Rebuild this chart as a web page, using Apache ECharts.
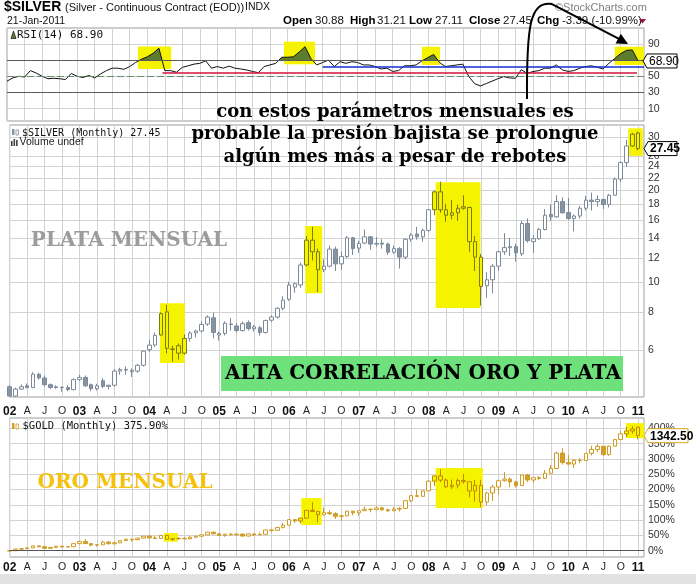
<!DOCTYPE html>
<html><head><meta charset="utf-8">
<script src="https://cdn.jsdelivr.net/npm/echarts@6/dist/echarts.min.js"></script>
<style>html,body{margin:0;padding:0;background:#fff}#c{width:696px;height:584px}</style>
</head><body><div id="c"></div>
<script>
// ---------- DATA (monthly, Jan 2002 .. Jan 2011) ----------
const yearLabels = ['02','03','04','05','06','07','08','09','10','11'];
const quarterLetters = ['A','J','O'];

const silverOpen = [4.55,4.24,4.47,4.58,4.52,5.00,4.86,4.62,4.52,4.53,4.52,4.45,
 4.80,4.88,4.62,4.48,4.76,4.56,4.60,5.12,5.18,5.10,5.12,5.35,
 6.02,6.23,6.72,8.00,6.05,6.20,5.86,6.55,6.83,6.93,7.30,7.65,
 6.72,6.80,7.30,7.20,6.95,7.38,7.05,7.10,6.85,7.52,7.70,8.22,
 8.80,9.65,9.80,11.40,13.75,12.60,11.00,11.30,12.85,11.50,12.15,14.00,
 12.95,13.45,14.10,13.35,13.45,13.35,12.55,12.90,12.10,13.85,14.40,14.10,
 14.80,17.30,19.80,17.30,16.60,16.90,17.70,17.60,13.60,12.10,9.75,10.20,
 11.30,12.60,13.00,13.10,12.40,15.60,13.60,13.90,14.90,16.70,16.40,18.40,
 16.95,16.20,16.50,17.50,18.60,18.40,18.70,18.00,19.30,21.80,24.70,28.00,
 30.88];
const silverHigh = [4.60,4.52,4.63,4.66,5.08,5.05,4.95,4.66,4.60,4.56,4.60,4.85,
 4.98,4.95,4.66,4.65,4.85,4.62,5.20,5.25,5.30,5.22,5.40,5.98,
 6.48,6.85,7.98,8.45,6.20,6.30,6.75,6.92,7.00,7.45,7.80,7.95,
 6.90,7.45,7.65,7.35,7.45,7.50,7.25,7.20,7.55,7.80,8.30,9.00,
 10.05,10.00,11.60,14.20,15.20,12.90,11.90,13.20,13.10,12.60,14.20,14.10,
 13.70,14.90,14.20,14.10,13.85,13.50,13.20,13.05,13.95,14.50,15.20,15.00,
 17.40,20.00,21.40,18.10,18.60,18.00,19.30,17.70,14.20,12.40,10.80,11.50,
 12.70,14.50,14.00,13.40,15.90,16.20,14.30,15.10,17.40,18.00,19.30,19.00,
 18.90,16.70,17.80,19.20,19.70,19.30,18.80,19.50,22.10,24.90,29.30,30.90,
 31.21];
const silverLow = [4.22,4.22,4.45,4.50,4.50,4.80,4.55,4.48,4.48,4.38,4.40,4.43,
 4.75,4.55,4.40,4.42,4.50,4.46,4.55,4.98,4.98,4.90,5.05,5.30,
 5.90,6.15,6.70,5.85,5.50,5.58,5.80,6.40,6.60,6.85,7.20,6.55,
 6.45,6.70,6.95,6.85,6.90,6.95,6.90,6.70,6.80,7.40,7.60,8.10,
 8.70,9.25,9.60,11.30,11.80,9.30,10.80,11.20,10.90,11.00,12.00,12.30,
 12.50,13.35,12.80,13.10,12.90,12.30,12.40,11.10,11.90,13.60,13.80,13.60,
 14.60,16.60,16.90,15.80,16.10,15.90,17.30,12.60,10.90,8.40,8.90,9.20,
 10.90,12.30,12.20,11.70,12.20,13.50,12.50,13.80,14.80,15.90,16.30,16.80,
 16.00,14.70,16.20,17.20,17.20,17.70,17.40,17.60,19.20,21.30,23.90,27.80,
 27.11];
const silverClose = [4.24,4.47,4.55,4.52,5.00,4.86,4.62,4.52,4.55,4.52,4.45,4.80,
 4.88,4.58,4.48,4.58,4.56,4.60,5.12,5.18,5.16,5.15,5.35,5.95,
 6.23,6.70,7.90,6.08,6.02,5.86,6.55,6.82,6.93,7.28,7.70,6.85,
 6.80,7.35,7.28,6.95,7.32,7.05,7.15,6.85,7.50,7.70,8.22,8.75,
 9.80,9.90,11.40,13.75,12.60,11.00,11.30,12.85,11.50,12.15,14.00,12.90,
 13.40,14.10,13.35,13.42,13.35,12.55,12.90,12.10,13.85,14.30,14.10,14.80,
 17.30,19.80,17.30,16.60,16.90,17.50,17.50,13.60,12.10,9.70,10.20,11.30,
 12.60,13.00,13.10,12.50,15.60,13.70,13.90,14.90,16.60,16.40,18.40,16.90,
 16.20,16.50,17.50,18.60,18.40,18.70,18.00,19.30,21.80,24.70,28.00,30.60,
 27.45];

const rsi14 = [44,48,50,49,57,54,50,47,47.5,47,46,53.5,
 50,48.5,51,48,52.8,57,60,60,58.6,62,67,71,
 74,78.4,84.6,57,57,55,61,63,65,66,69,60,
 62,60,62.5,60,59,57.8,56,54.4,62,64,66,73.5,
 73.5,74,80,86.5,72,64,67,70,62,68,66,68,
 67,64,64,62,59,60,56,57,63,63,64,69,
 73,77,67,62,63,64,65,50,41,38,41,44,
 47,49.6,48,47.5,58,53.7,55.8,57,59.9,60,64,58,
 56,57,60,62,63,61,59,66,72,78,82,82.5,
 68.9];

const goldOpen = [279.0,282.3,296.9,301.4,308.2,326.6,318.5,304.7,312.8,323.7,316.9,319.1,
 347.2,367.5,347.5,334.9,336.8,361.4,346.0,354.8,375.6,388.0,383.8,398.4,
 416.3,399.8,395.9,423.7,388.5,393.3,395.8,391.4,407.3,415.7,428.6,452.9,
 438.0,421.4,434.4,429.0,435.7,417.3,437.1,429.0,433.3,473.3,470.6,495.7,
 517.0,568.8,556.0,582.0,654.5,643.0,613.5,632.5,623.5,599.3,603.8,646.7,
 632.0,650.5,664.2,661.8,677.0,659.1,650.5,665.5,672.0,743.0,789.5,783.5,
 833.8,923.3,971.5,933.5,871.0,885.8,930.3,918.0,833.0,884.5,730.8,814.5,
 869.8,927.3,942.5,916.5,883.3,980.3,934.5,955.5,949.5,995.8,1040.0,1182.0,
 1096.0,1081.0,1116.0,1113.0,1180.0,1215.0,1244.0,1169.0,1246.0,1307.0,1359.0,1386.0,
 1421.0];
const goldHigh = [289.2,302.3,304.0,310.0,328.0,331.0,323.0,316.0,326.0,325.0,323.0,350.0,
 370.0,390.0,352.0,342.0,374.0,371.0,366.0,377.0,392.0,393.0,400.0,417.0,
 428.0,418.0,427.0,428.0,396.0,404.0,411.0,416.0,419.0,431.0,456.0,458.0,
 440.0,438.0,446.0,438.0,436.0,441.0,438.0,448.0,475.0,479.0,498.0,540.0,
 572.0,574.0,588.0,656.0,730.0,645.0,680.0,655.0,637.0,613.0,650.0,650.0,
 655.0,690.0,672.0,693.0,690.0,670.0,684.0,683.0,745.0,794.0,848.0,841.0,
 932.0,975.0,1033.0,950.0,938.0,948.0,990.0,918.0,935.0,935.0,825.0,889.0,
 936.0,1007.0,958.0,925.0,982.0,991.0,961.0,970.0,1025.0,1072.0,1196.0,1226.0,
 1163.0,1128.0,1134.0,1180.0,1250.0,1266.0,1247.0,1250.0,1310.0,1388.0,1424.0,1432.0,
 1424.0];
const goldLow = [277.8,282.0,288.0,299.0,306.0,314.0,301.0,300.0,309.0,311.0,313.0,317.0,
 342.0,345.0,320.0,320.0,336.0,343.0,341.0,353.0,370.0,367.0,379.0,397.0,
 398.0,392.0,391.0,386.0,373.0,384.0,387.0,387.0,398.0,413.0,427.0,433.0,
 418.0,411.0,424.0,421.0,414.0,413.0,418.0,426.0,433.0,456.0,467.0,488.0,
 517.0,538.0,535.0,580.0,640.0,543.0,608.0,612.0,574.0,560.0,600.0,609.0,
 603.0,648.0,636.0,660.0,652.0,640.0,648.0,643.0,670.0,730.0,776.0,780.0,
 833.0,880.0,915.0,862.0,850.0,857.0,900.0,774.0,735.0,681.0,700.0,741.0,
 802.0,918.0,866.0,865.0,880.0,915.0,905.0,931.0,947.0,993.0,1040.0,1076.0,
 1075.0,1044.0,1089.0,1111.0,1160.0,1191.0,1155.0,1157.0,1243.0,1305.0,1330.0,1361.0,
 1309.0];
const goldClose = [282.3,296.9,301.4,308.2,326.6,318.5,304.7,312.8,323.7,316.9,319.1,347.2,
 367.5,347.5,334.9,336.8,361.4,346.0,354.8,375.6,388.0,383.8,398.4,416.3,
 399.8,395.9,423.7,388.5,393.3,395.8,391.4,407.3,415.7,428.6,452.9,438.0,
 421.4,434.4,429.0,435.7,417.3,437.1,429.0,433.3,473.3,470.6,495.7,517.0,
 568.8,556.0,582.0,654.5,643.0,613.5,632.5,623.5,599.3,603.8,646.7,632.0,
 650.5,664.2,661.8,677.0,659.1,650.5,665.5,672.0,743.0,789.5,783.5,833.8,
 923.3,971.5,933.5,871.0,885.8,930.3,918.0,833.0,884.5,730.8,814.5,869.8,
 927.3,942.5,916.5,883.3,980.3,934.5,955.5,949.5,995.8,1040.0,1182.0,1096.0,
 1081.0,1116.0,1113.0,1180.0,1215.0,1244.0,1169.0,1246.0,1307.0,1359.0,1386.0,1405.0,
 1342.5];
const goldLastPct = 375.90;

const rsiGridValues = [10,30,50,70,90];
const rsiLabelValues = [10,30,50,70,90];
const silverTickValues = [6,8,10,12,14,16,18,20,22,24,26,30];
const goldTickValues = [0,50,100,150,200,250,300,350,400];

// highlight boxes [fromMonth, toMonth, top, bottom]
const rsiBoxes = [[22.4,28.1,86.8,59.0],[47.4,52.7,92.7,64.8],[71.0,74.1,86.5,64.0],[104.0,109.0,86.5,64.0]];
const silverBoxes = [[25.84,30.07,8.55,5.44],[50.8,53.7,15.3,9.22],[73.2,80.9,21.3,8.24],[106.3,108.8,32.0,26.0]];
const goldBoxes = [[26.5,28.9,57.8,29.4],[50.1,53.6,172,84],[73.2,81.3,270,139.5],[105.9,109,417,368]];
const redSupport = [26.6,107.8,54.4];
const blueSupport = [54.0,109.0,62.3];

// ---------- BUILD ----------
const L = Math.log10;
const last = silverClose.length - 1;
const goldBase = goldClose[last] / (1 + goldLastPct/100);
const pct = p => (p/goldBase - 1) * 100;
const inBox = (k, boxes) => boxes.some(b => k >= b[0] - 0.2 && k <= b[1] + 0.2);

const YEL = '#f6f300';
const silverItems = silverOpen.map((o,k) => {
  const it = {value:[k, L(o), L(silverClose[k]), L(silverLow[k]), L(silverHigh[k])]};
  if (inBox(k, silverBoxes)) it.itemStyle = {color: YEL, color0:'#7b7c12', borderColor:'#7b7c12', borderColor0:'#7b7c12'};
  return it;
});
const goldItems = goldOpen.map((o,k) => {
  const it = {value:[k, pct(o), pct(goldClose[k]), pct(goldLow[k]), pct(goldHigh[k])]};
  if (inBox(k, goldBoxes)) it.itemStyle = {color: YEL, color0:'#c99400', borderColor:'#c08a00', borderColor0:'#c08a00'};
  return it;
});
const rsiPts = rsi14.map((v,k) => [k, v]);

const boxArea = (boxes, tf) => boxes.map(b => [{xAxis:b[0], yAxis:tf(b[2])},{xAxis:b[1], yAxis:tf(b[3])}]);

const FONT = '"Liberation Sans", Arial, sans-serif';
const xAxisFor = (gi, show, margin) => ({
  type:'value', gridIndex:gi, min:0, max:109, interval:3,
  axisLine:{show:false}, axisTick:{show:false},
  splitLine:{show:true, lineStyle:{color:'#d2d2d2', width:1}},
  axisLabel:{show, margin, showMinLabel:true, showMaxLabel:false,
    formatter: v => {
      if (v % 3 !== 0 || v > 108) return '';
      const q = (v % 12) / 3;
      return q === 0 ? '{y|' + yearLabels[v/12] + '}' : '{m|' + quarterLetters[q-1] + '}';
    },
    rich:{y:{fontWeight:'bold', fontSize:12, fontFamily:FONT, color:'#111'},
          m:{fontSize:10.5, fontFamily:FONT, color:'#222'}}}
});
const yLabelBase = {margin:4, color:'#333', fontSize:10.5, fontFamily:FONT};

const option = {
  animation:false,
  backgroundColor:'#fff',
  grid:[
    {left:7, right:52, top:28, height:93, show:true, borderColor:'#9a9a9a', borderWidth:1},
    {left:7, right:52, top:125, height:272, show:true, borderColor:'#9a9a9a', borderWidth:1},
    {left:7, right:52, top:418, height:139, show:true, borderColor:'#9a9a9a', borderWidth:1}
  ],
  xAxis:[xAxisFor(0,false,0), xAxisFor(1,true,9), xAxisFor(2,true,5)],
  yAxis:[
    {type:'value', gridIndex:0, position:'right', min:-5.2, max:109.6,
     axisLine:{show:false}, axisTick:{show:false, customValues:rsiGridValues},
     splitLine:{lineStyle:{color:'#d2d2d2'}},
     axisLabel:Object.assign({}, yLabelBase, {customValues:rsiLabelValues, formatter: v => String(v)})},
    {type:'value', gridIndex:1, position:'right', min:L(4.21), max:L(32.8),
     axisLine:{show:false}, axisTick:{show:false, customValues:silverTickValues.map(L)},
     splitLine:{lineStyle:{color:'#d2d2d2'}},
     axisLabel:Object.assign({}, yLabelBase, {customValues:silverTickValues.map(L),
       formatter: v => String(Math.round(Math.pow(10, v)))})},
    {type:'value', gridIndex:2, position:'right', min:-20.5, max:433.7,
     axisLine:{show:false}, axisTick:{show:false, customValues:goldTickValues},
     splitLine:{lineStyle:{color:'#d2d2d2'}},
     axisLabel:Object.assign({}, yLabelBase, {customValues:goldTickValues, formatter: v => v + '%'})}
  ],
  visualMap:[{show:false, type:'piecewise', seriesIndex:0, dimension:1,
    pieces:[{gt:70, lte:200, color:'#5e7c2e'},{gte:-100, lte:70, color:'rgba(255,255,255,0)'}],
    outOfRange:{color:'rgba(255,255,255,0)'}}],
  series:[
    {type:'line', xAxisIndex:0, yAxisIndex:0, data:rsiPts, symbol:'none', silent:true,
     lineStyle:{width:0, opacity:0}, areaStyle:{opacity:1, origin:'start'}, z:3},
    {type:'line', xAxisIndex:0, yAxisIndex:0, data:rsiPts, symbol:'none', silent:true,
     lineStyle:{color:'#111', width:1}, z:4,
     markArea:{silent:true, label:{show:false}, itemStyle:{color:YEL, opacity:1},
       data:boxArea(rsiBoxes, v => v)},
     markLine:{silent:true, symbol:['none','none'], label:{show:false}, animation:false,
       data:[
         {yAxis:70, lineStyle:{color:'#5a5a5a', width:1, type:'solid'}},
         {yAxis:30, lineStyle:{color:'#5a5a5a', width:1, type:'solid'}},
         {yAxis:50, lineStyle:{color:'#6d8a6d', width:1, type:[7,3]}},
         [{coord:[redSupport[0], redSupport[2]], lineStyle:{color:'#d0143a', width:1.5, type:'solid'}},
          {coord:[redSupport[1], redSupport[2]], lineStyle:{color:'#d0143a', width:1.5, type:'solid'}}],
         [{coord:[blueSupport[0], blueSupport[2]], lineStyle:{color:'#1530d0', width:1.5, type:'solid'}},
          {coord:[blueSupport[1], blueSupport[2]], lineStyle:{color:'#1530d0', width:1.5, type:'solid'}}]
       ]}},
    {type:'candlestick', xAxisIndex:1, yAxisIndex:1, data:silverItems, barWidth:4, silent:true,
     encode:{x:0, y:[1,2,3,4]},
     itemStyle:{color:'#ffffff', color0:'#8794a3', borderColor:'#7d8a99', borderColor0:'#7d8a99', borderWidth:1},
     markArea:{silent:true, label:{show:false}, itemStyle:{color:YEL, opacity:1},
       data:boxArea(silverBoxes, L)}},
    {type:'candlestick', xAxisIndex:2, yAxisIndex:2, data:goldItems, barWidth:4, silent:true,
     encode:{x:0, y:[1,2,3,4]},
     itemStyle:{color:'#ffffff', color0:'#d4a02c', borderColor:'#cf9b22', borderColor0:'#cf9b22', borderWidth:1},
     markArea:{silent:true, label:{show:false}, itemStyle:{color:YEL, opacity:1},
       data:boxArea(goldBoxes, v => v)},
     markLine:{silent:true, symbol:['none','none'], label:{show:false},
       data:[{yAxis:0, lineStyle:{color:'#555', width:1, type:'solid'}}]}}
  ]
};

const chart = echarts.init(document.getElementById('c'), null, {renderer:'canvas', width:696, height:584});
chart.setOption(option);

// ---------- text / annotations ----------
const T = (text, x, y, font, fill, align) => ({type:'text', x, y, z:100, silent:true,
  style:{text, font, fill, align: align || 'left', verticalAlign:'middle'}});
const R = (x, y, w, h, style) => ({type:'rect', shape:{x, y, width:w, height:h}, style, z:100, silent:true});
const SER = '"DejaVu Serif", serif';
const MONO = '"DejaVu Sans Mono", monospace';

// last-value tags positioned through the axes
const tag = (yc, x0, x1, text, border, weight) => [
  {type:'polygon', shape:{points:[[x0-4,yc],[x0,yc-7],[x1,yc-7],[x1,yc+7],[x0,yc+7]]},
   style:{fill:'#fff', stroke:border, lineWidth:1}, z:110, silent:true},
  {type:'text', x:x0+2, y:yc+0.5, z:111, silent:true,
   style:{text, font:weight + ' 12px ' + FONT, fill:'#000', align:'left', verticalAlign:'middle'}}
];
const yR = chart.convertToPixel({xAxisIndex:0, yAxisIndex:0}, [last, rsi14[last]])[1];
const yS = chart.convertToPixel({xAxisIndex:1, yAxisIndex:1}, [last, L(silverClose[last])])[1];
const yG = chart.convertToPixel({xAxisIndex:2, yAxisIndex:2}, [last, pct(goldClose[last])])[1];

const elements = [
  R(0, 574, 696, 10, {fill:'#e2e2e2'}),
  T('$SILVER', 4, 7, 'bold 14px ' + FONT, '#000'),
  T('(Silver - Continuous Contract (EOD))', 65, 7.5, '11px ' + FONT, '#111'),
  T('INDX', 245, 7.5, '10.5px ' + FONT, '#111'),
  T('21-Jan-2011', 7, 21, '10.5px ' + FONT, '#111'),
  T('Open', 283, 21, 'bold 11.5px ' + FONT, '#000'),
  T(silverOpen[last].toFixed(2), 315, 21, '11.5px ' + FONT, '#111'),
  T('High', 350, 21, 'bold 11.5px ' + FONT, '#000'),
  T(silverHigh[last].toFixed(2), 377, 21, '11.5px ' + FONT, '#111'),
  T('Low', 409, 21, 'bold 11.5px ' + FONT, '#000'),
  T(silverLow[last].toFixed(2), 435, 21, '11.5px ' + FONT, '#111'),
  T('Close', 469, 21, 'bold 11.5px ' + FONT, '#000'),
  T(silverClose[last].toFixed(2), 503, 21, '11.5px ' + FONT, '#111'),
  T('Chg', 537, 21, 'bold 11.5px ' + FONT, '#000'),
  T('-3.39 (-10.99%)', 562, 21, '11.5px ' + FONT, '#111'),
  {type:'polygon', shape:{points:[[639,19],[646,19],[642.5,23.5]]}, style:{fill:'#a3124e'}, z:100, silent:true},
  T('\u00a9StockCharts.com', 555, 8, '11px ' + FONT, '#808080'),
  // legends
  {type:'polygon', shape:{points:[[11,38.5],[13.5,31],[16,38.5]]}, style:{fill:'#5e7c2e', stroke:'#222', lineWidth:0.8}, z:100, silent:true},
  T('RSI(14) ' + rsi14[last].toFixed(2), 17, 35, '11px ' + MONO, '#111'),
  R(12, 129, 2.5, 6, {fill:'#8794a3'}),
  R(16, 130, 2.5, 5, {fill:'#fff', stroke:'#7d8a99', lineWidth:0.8}),
  T('$SILVER (Monthly) ' + silverClose[last].toFixed(2), 22, 133, '10px ' + MONO, '#111'),
  R(11, 141, 1.6, 5, {fill:'#444'}),
  R(13.5, 139, 1.6, 7, {fill:'#444'}),
  R(16, 140, 1.6, 6, {fill:'#444'}),
  T('Volume undef', 19.5, 142.5, '10.5px ' + FONT, '#222'),
  R(12, 423, 2.5, 6, {fill:'#d4a02c'}),
  R(16, 424, 2.5, 5, {fill:'#fff', stroke:'#cf9b22', lineWidth:0.8}),
  T('$GOLD (Monthly) ' + goldLastPct.toFixed(2) + '%', 22.5, 426.5, '10.5px ' + MONO, '#111'),
  // annotations
  T('con estos parámetros mensuales es', 395, 112, 'bold 18px ' + SER, '#000', 'center'),
  T('probable la presión bajista se prolongue', 395, 134, 'bold 18px ' + SER, '#000', 'center'),
  T('algún mes más a pesar de rebotes', 395, 157, 'bold 18px ' + SER, '#000', 'center'),
  T('PLATA MENSUAL', 129, 241, 'bold 20px ' + SER, '#9c9c9c', 'center'),
  {type:'rect', shape:{x:221, y:356, width:402, height:35}, style:{fill:'#6ee07c'}, z:99, silent:true},
  T('ALTA CORRELACIÓN ORO Y PLATA', 423, 373.5, 'bold 20px ' + SER, '#000', 'center'),
  T('ORO MENSUAL', 125, 482.5, 'bold 20px ' + SER, '#f4c20d', 'center'),
  {type:'bezierCurve', shape:{x1:527, y1:99, cpx1:526.5, cpy1:25, cpx2:530, cpy2:1, x2:552, y2:4},
   style:{stroke:'#000', lineWidth:2, fill:null}, z:101, silent:true},
  {type:'line', shape:{x1:551, y1:3.6, x2:619, y2:38.8}, style:{stroke:'#000', lineWidth:2}, z:101, silent:true},
  {type:'polygon', shape:{points:[[628,44],[615.5,43.5],[620.8,33.8]]}, style:{fill:'#000'}, z:101, silent:true},
  ...tag(yR, 647, 677, rsi14[last].toFixed(2), '#000', 'normal'),
  ...tag(yS, 648, 677, silverClose[last].toFixed(2), '#000', 'bold'),
  ...tag(yG, 648, 688, goldClose[last].toFixed(2), '#d9a520', 'bold')
];
chart.setOption({graphic:{elements}});
</script>
</body></html>
